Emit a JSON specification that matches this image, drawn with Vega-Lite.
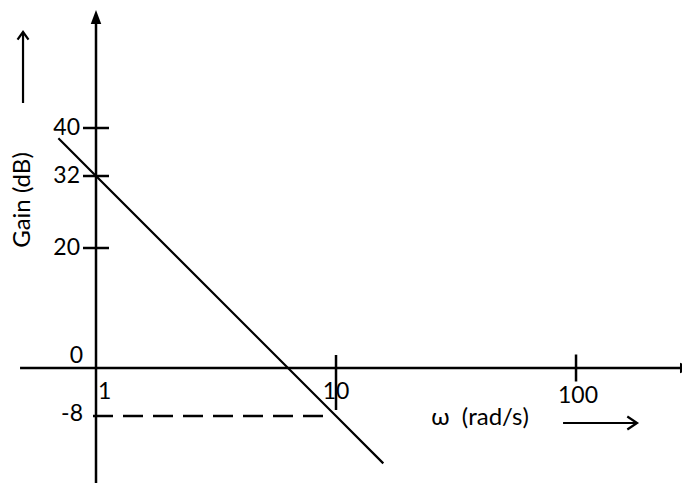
{
  "$schema": "https://vega.github.io/schema/vega-lite/v6.json",
  "width": 682,
  "height": 483,
  "padding": 0,
  "autosize": {"type": "none"},
  "background": "white",
  "config": {"view": {"stroke": null}},
  "datasets": {
    "yaxis": [{"w": 1, "g": -19.6, "g2": 58.5}],
    "xaxis": [{"w": 0.4825, "w2": 300, "g": 0}],
    "yhead": [{"w": 1, "g": 59.67}],
    "xhead": [{"w": 310.1, "g": 0}],
    "curve": [{"w": 0.697, "g": 38.3}, {"w": 1, "g": 32}, {"w": 10, "g": -8}, {"w": 15.74, "g": -15.9}],
    "dash": [{"w": 0.9716, "w2": 8.83, "g": -8}],
    "yticks": [{"w": 1, "g": 40, "label": "40"}, {"w": 1, "g": 32, "label": "32"}, {"w": 1, "g": 20, "label": "20"}],
    "xtick10": [{"w": 10, "g": 0, "label": "10"}],
    "xtick100": [{"w": 100, "g": 0, "label": "100"}],
    "zero": [{"w": 1, "g": 0, "label": "0"}],
    "minus8": [{"w": 1, "g": -8, "label": "-8"}],
    "one": [{"w": 1, "g": 0, "label": "1"}],
    "xtitle": [{"w": 39.8, "g": -8.33, "label": "ω\u00a0\u00a0(rad/s)"}],
    "xarrow": [{"w": 88.3, "w2": 179.6, "g": -9.17}],
    "ytitle": [{"w": 0.4965, "g": 28, "label": "Gain (dB)"}],
    "yarrow": [{"w": 0.4965, "g": 44.17, "g2": 56}]
  },
  "encoding": {
    "x": {"field": "w", "type": "quantitative", "axis": null,
          "scale": {"type": "log", "domain": [0.398107, 276.4], "nice": false, "zero": false}},
    "y": {"field": "g", "type": "quantitative", "axis": null,
          "scale": {"domain": [-19.1667, 61.3333], "nice": false, "zero": false}}
  },
  "layer": [
    {"data": {"name": "dash"}, "mark": {"type": "rule", "color": "black", "strokeWidth": 2.5, "strokeDash": [20, 10]},
     "encoding": {"x2": {"field": "w2"}}},
    {"data": {"name": "curve"}, "mark": {"type": "line", "color": "black", "strokeWidth": 2.2}, "encoding": {}},
    {"data": {"name": "yaxis"}, "mark": {"type": "rule", "color": "black", "strokeWidth": 2.5},
     "encoding": {"y2": {"field": "g2"}}},
    {"data": {"name": "xaxis"}, "mark": {"type": "rule", "color": "black", "strokeWidth": 2.5},
     "encoding": {"x2": {"field": "w2"}}},
    {"data": {"name": "yhead"}, "mark": {"type": "point", "filled": true, "color": "black", "opacity": 1, "size": 196,
      "shape": "M0,0L0.75,2L-0.75,2Z"}},
    {"data": {"name": "xhead"}, "mark": {"type": "point", "filled": true, "color": "black", "opacity": 1, "size": 196,
      "shape": "M0,0L-2,-0.75L-2,0.75Z"}},
    {"data": {"name": "yticks"}, "mark": {"type": "tick", "orient": "horizontal", "size": 26, "thickness": 2.5, "color": "black", "opacity": 1}},
    {"data": {"name": "xtick10"}, "mark": {"type": "tick", "orient": "vertical", "size": 55, "thickness": 2.5, "color": "black", "opacity": 1, "yOffset": 14.5}},
    {"data": {"name": "xtick100"}, "mark": {"type": "tick", "orient": "vertical", "size": 27, "thickness": 2.5, "color": "black", "opacity": 1}},
    {"data": {"name": "yticks"}, "mark": {"type": "text", "align": "right", "baseline": "middle", "dx": -16, "dy": 0,
      "font": "Lato, 'Noto Sans', sans-serif", "fontSize": 23, "color": "black"},
     "encoding": {"text": {"field": "label"}}},
    {"data": {"name": "zero"}, "mark": {"type": "text", "align": "right", "baseline": "middle", "dx": -13, "dy": -12,
      "font": "Lato, 'Noto Sans', sans-serif", "fontSize": 23, "color": "black"},
     "encoding": {"text": {"field": "label"}}},
    {"data": {"name": "minus8"}, "mark": {"type": "text", "align": "right", "baseline": "middle", "dx": -13, "dy": -2,
      "font": "Lato, 'Noto Sans', sans-serif", "fontSize": 23, "color": "black"},
     "encoding": {"text": {"field": "label"}}},
    {"data": {"name": "one"}, "mark": {"type": "text", "align": "left", "baseline": "middle", "dx": 2, "dy": 24,
      "font": "Lato, 'Noto Sans', sans-serif", "fontSize": 23, "color": "black"},
     "encoding": {"text": {"field": "label"}}},
    {"data": {"name": "xtick10"}, "mark": {"type": "text", "align": "center", "baseline": "middle", "dx": 0, "dy": 24,
      "font": "Lato, 'Noto Sans', sans-serif", "fontSize": 23, "color": "black"},
     "encoding": {"text": {"field": "label"}}},
    {"data": {"name": "xtick100"}, "mark": {"type": "text", "align": "center", "baseline": "middle", "dx": 2, "dy": 28,
      "font": "Lato, 'Noto Sans', sans-serif", "fontSize": 23, "color": "black"},
     "encoding": {"text": {"field": "label"}}},
    {"data": {"name": "xtitle"}, "mark": {"type": "text", "align": "center", "baseline": "middle",
      "font": "Lato, 'Noto Sans', sans-serif", "fontSize": 24, "color": "black"},
     "encoding": {"text": {"field": "label"}}},
    {"data": {"name": "xarrow"}, "mark": {"type": "rule", "color": "black", "strokeWidth": 2.2},
     "encoding": {"x2": {"field": "w2"}}},
    {"data": {"name": "xarrow"}, "mark": {"type": "point", "filled": false, "color": "black", "opacity": 1, "size": 169, "strokeWidth": 2.2,
      "shape": "M-1.5,-1L0,0L-1.5,1"},
     "encoding": {"x": {"field": "w2", "type": "quantitative"}}},
    {"data": {"name": "ytitle"}, "mark": {"type": "text", "align": "center", "baseline": "middle", "angle": 270,
      "font": "Lato, 'Noto Sans', sans-serif", "fontSize": 24, "color": "black"},
     "encoding": {"text": {"field": "label"}}},
    {"data": {"name": "yarrow"}, "mark": {"type": "rule", "color": "black", "strokeWidth": 2.2},
     "encoding": {"y2": {"field": "g2"}}},
    {"data": {"name": "yarrow"}, "mark": {"type": "point", "filled": false, "color": "black", "opacity": 1, "size": 121, "strokeWidth": 2.2,
      "shape": "M-1,1.4L0,0L1,1.4"},
     "encoding": {"y": {"field": "g2", "type": "quantitative"}}}
  ]
}
